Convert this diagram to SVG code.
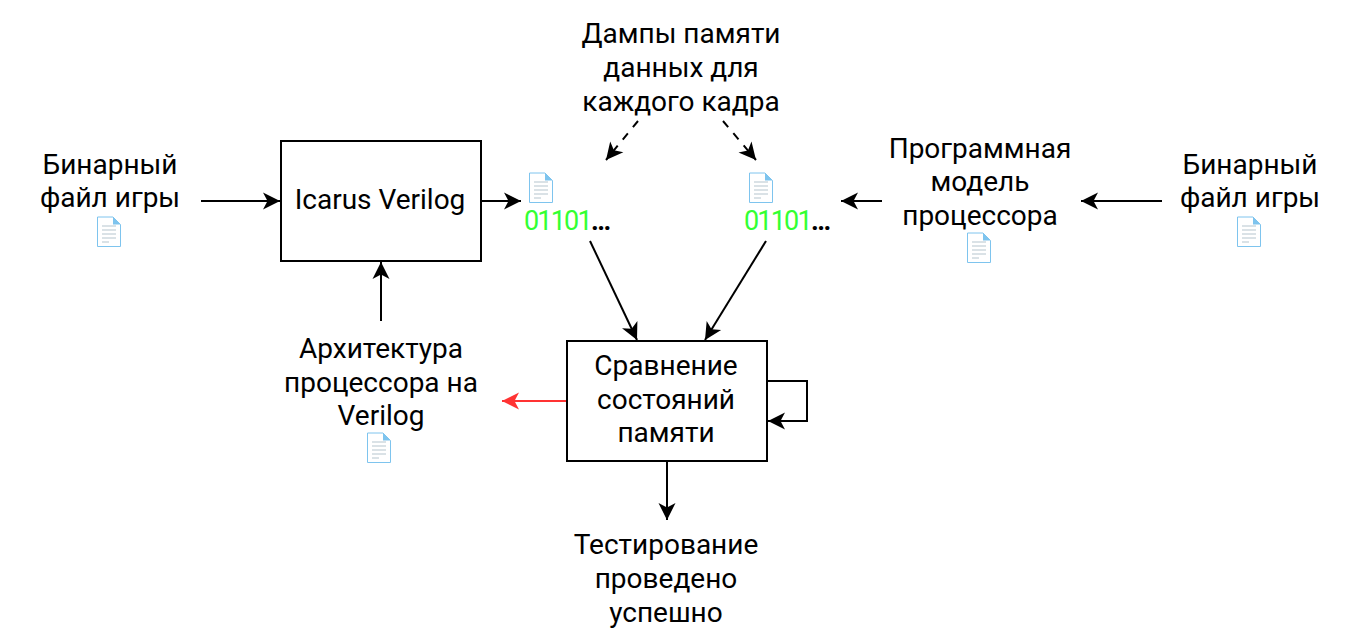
<svg xmlns="http://www.w3.org/2000/svg" width="1360" height="640" viewBox="0 0 1360 640">
<style>
text{font-family:Roboto,"Noto Sans",sans-serif;font-size:28px;fill:#000;text-anchor:middle}
.box{fill:#fff;stroke:#000;stroke-width:2}
.c{fill:none;stroke:#000;stroke-width:2}
.red{stroke:#f33}
.num{font-size:27px;text-anchor:start;letter-spacing:-1.8px}
.bits{fill:#3f3}
.dots{font-weight:bold;letter-spacing:-1.500px}
.dash{stroke-dasharray:8 8}
</style>
<defs>
<marker id="a" markerUnits="userSpaceOnUse" markerWidth="22" markerHeight="20" refX="20" refY="10" orient="auto"><path d="M3 1.500L20 10L3 18.500L7.500 10Z" fill="#000"/></marker>
<marker id="r" markerUnits="userSpaceOnUse" markerWidth="22" markerHeight="20" refX="20" refY="10" orient="auto"><path d="M3 1.500L20 10L3 18.500L7.500 10Z" fill="#f33"/></marker>
<symbol id="doc" viewBox="0 0 28 32" width="28" height="32">
<path d="M2.500 1H18L25.500 8.500V30.500H2.500Z" fill="#fff" stroke="#7ec4ee" stroke-width="1"/>
<path d="M18 1V8.500H25.500Z" fill="#7ec4ee"/>
<path d="M7 10H21M7 14H21M7 18H21M7 22H21M7 26H14" stroke="#b5c5ce" stroke-width="1"/>
</symbol>
</defs>
<g id="connectors">
<path class="c" d="M201 201H280" marker-end="url(#a)"/>
<path class="c" d="M481 201H521" marker-end="url(#a)"/>
<path class="c" d="M381 321V262" marker-end="url(#a)"/>
<path class="c" d="M882 201H841" marker-end="url(#a)"/>
<path class="c" d="M1162 201H1081" marker-end="url(#a)"/>
<path class="c" d="M590 241L637 340" marker-end="url(#a)"/>
<path class="c" d="M766 241L705 340" marker-end="url(#a)"/>
<path class="c dash" d="M638 121L606 160" marker-end="url(#a)"/>
<path class="c dash" d="M723 121L756 160" marker-end="url(#a)"/>
<path class="c" d="M767 381H807V421H768" marker-end="url(#a)"/>
<path class="c red" d="M567 401H502" marker-end="url(#r)"/>
<path class="c" d="M667 461V520" marker-end="url(#a)"/>
</g>
<g id="icarus"><rect class="box" x="281" y="141" width="200" height="120"/><text x="380" y="209">Icarus Verilog</text></g>
<g id="compare"><rect class="box" x="567" y="341" width="200" height="120"/><text x="666" y="375">Сравнение</text><text x="666" y="409">состояний</text><text x="666" y="442">памяти</text></g>
<g id="bin-left"><text x="110" y="174">Бинарный</text><text x="110" y="207">файл игры</text><use href="#doc" x="95" y="216"/></g>
<g id="bin-right"><text x="1250" y="174">Бинарный</text><text x="1250" y="207">файл игры</text><use href="#doc" x="1235" y="216"/></g>
<g id="model"><text x="980" y="158">Программная</text><text x="980" y="191">модель</text><text x="980" y="225">процессора</text><use href="#doc" x="965" y="232"/></g>
<g id="arch"><text x="381" y="358">Архитектура</text><text x="381" y="392">процессора на</text><text x="381" y="425">Verilog</text><use href="#doc" x="365" y="432"/></g>
<g id="dumps"><text x="681" y="43">Дампы памяти</text><text x="681" y="77">данных для</text><text x="681" y="111">каждого кадра</text></g>
<g id="result"><text x="666" y="554">Тестирование</text><text x="666" y="588">проведено</text><text x="666" y="622">успешно</text></g>
<g id="dump-a"><use href="#doc" x="527" y="172"/><text class="num" x="524" y="230"><tspan class="bits">01101</tspan><tspan class="dots">...</tspan></text></g>
<g id="dump-b"><use href="#doc" x="747" y="172"/><text class="num" x="744" y="230"><tspan class="bits">01101</tspan><tspan class="dots">...</tspan></text></g>
</svg>
